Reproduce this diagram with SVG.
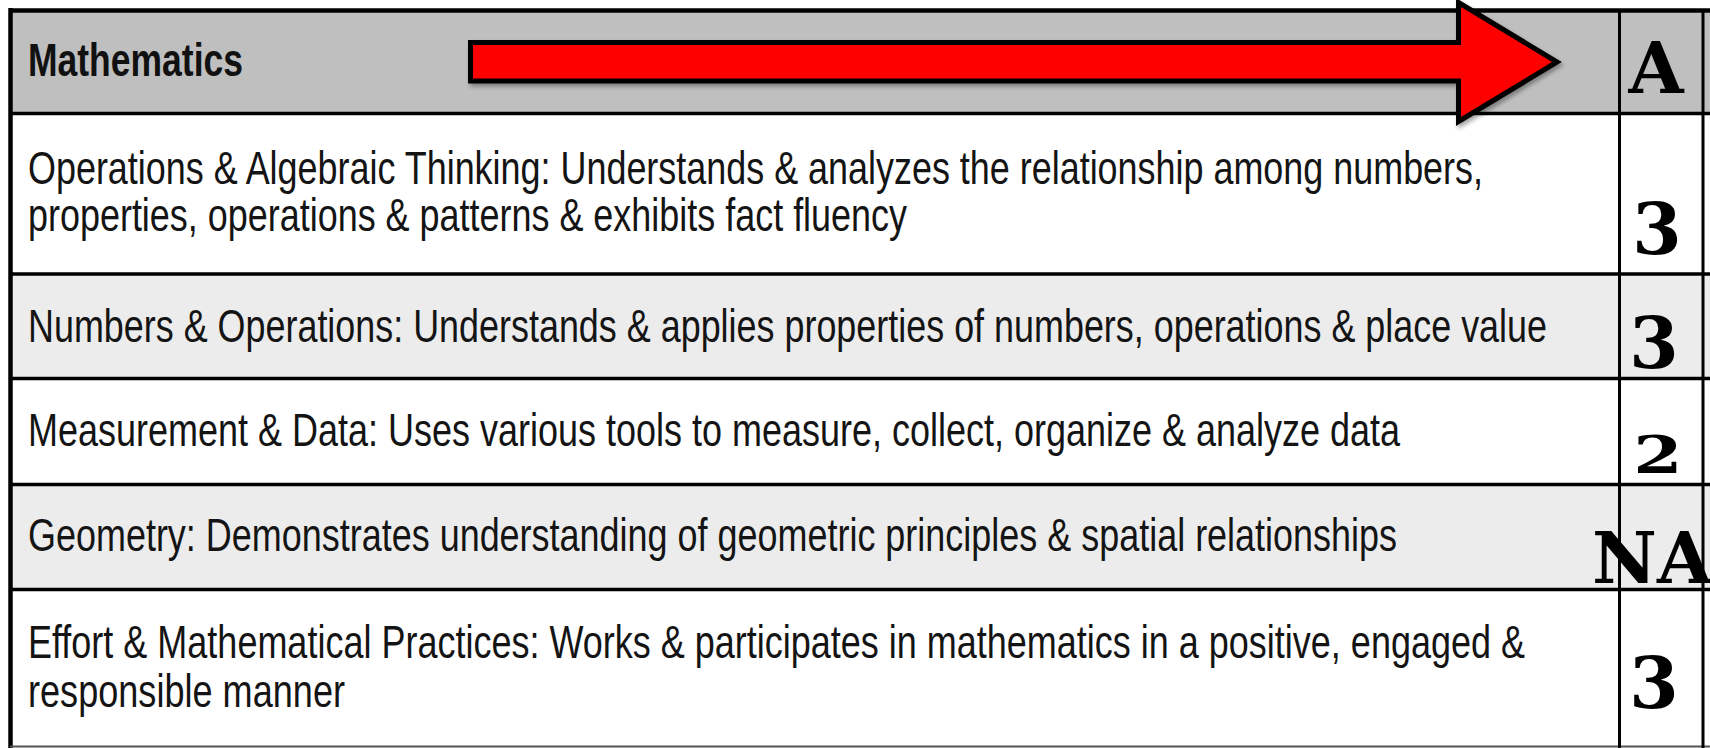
<svg xmlns="http://www.w3.org/2000/svg" width="1710" height="748" viewBox="0 0 1710 748">
<style>
.t{font-family:"Liberation Sans",Arial,sans-serif;font-size:46px;fill:#141414}
.h{font-family:"Liberation Sans",Arial,sans-serif;font-size:47px;font-weight:bold;fill:#111}
.g{font-family:"DejaVu Serif","Liberation Serif",serif;font-size:71px;font-weight:bold;fill:#000}
.ln{stroke:#000;stroke-width:3.5;fill:none}
.vl{stroke:#000;stroke-width:3;fill:none}
</style>
<defs>
<filter id="sh" x="-5%" y="-20%" width="110%" height="140%">
<feDropShadow dx="2" dy="3" stdDeviation="2" flood-color="#000" flood-opacity="0.35"/>
</filter>
</defs>
<rect x="0" y="0" width="1710" height="748" fill="#fff"/>
<g id="header">
<rect x="10" y="10" width="1700" height="104" fill="#bfbfbf"/>
<text class="h" x="28" y="76" textLength="215" lengthAdjust="spacingAndGlyphs">Mathematics</text>
</g>
<g id="row1">
<rect x="10" y="114" width="1700" height="160" fill="#fff"/>
<text class="t" x="28" y="184" textLength="1455" lengthAdjust="spacingAndGlyphs">Operations &amp; Algebraic Thinking: Understands &amp; analyzes the relationship among numbers,</text>
<text class="t" x="28" y="231" textLength="879" lengthAdjust="spacingAndGlyphs">properties, operations &amp; patterns &amp; exhibits fact fluency</text>
</g>
<g id="row2">
<rect x="10" y="274" width="1700" height="104" fill="#ececec"/>
<text class="t" x="28" y="342" textLength="1519" lengthAdjust="spacingAndGlyphs">Numbers &amp; Operations: Understands &amp; applies properties of numbers, operations &amp; place value</text>
</g>
<g id="row3">
<rect x="10" y="378" width="1700" height="106" fill="#fff"/>
<text class="t" x="28" y="446" textLength="1372" lengthAdjust="spacingAndGlyphs">Measurement &amp; Data: Uses various tools to measure, collect, organize &amp; analyze data</text>
</g>
<g id="row4">
<rect x="10" y="484" width="1700" height="106" fill="#ececec"/>
<text class="t" x="28" y="551" textLength="1369" lengthAdjust="spacingAndGlyphs">Geometry: Demonstrates understanding of geometric principles &amp; spatial relationships</text>
</g>
<g id="row5">
<rect x="10" y="590" width="1700" height="158" fill="#fff"/>
<text class="t" x="28" y="658" textLength="1497" lengthAdjust="spacingAndGlyphs">Effort &amp; Mathematical Practices: Works &amp; participates in mathematics in a positive, engaged &amp;</text>
<text class="t" x="28" y="707" textLength="317" lengthAdjust="spacingAndGlyphs">responsible manner</text>
</g>
<g id="grid">
<line class="ln" x1="10" y1="10.5" x2="1710" y2="10.5" style="stroke-width:4.5"/>
<line class="ln" x1="10.5" y1="8" x2="10.5" y2="748" style="stroke-width:4.5"/>
<line class="ln" x1="10" y1="113.5" x2="1710" y2="113.5"/>
<line class="ln" x1="10" y1="274" x2="1710" y2="274"/>
<line class="ln" x1="10" y1="378.5" x2="1710" y2="378.5"/>
<line class="ln" x1="10" y1="484.5" x2="1710" y2="484.5"/>
<line class="ln" x1="10" y1="589.5" x2="1710" y2="589.5"/>
<line x1="10" y1="746.5" x2="1710" y2="746.5" stroke="#555" stroke-width="2"/>
<line class="vl" x1="1619.5" y1="10" x2="1619.5" y2="748"/>
<line class="vl" x1="1703" y1="10" x2="1703" y2="748"/>
</g>
<g id="grades">
<text class="g" x="1656" y="93" text-anchor="middle">A</text>
<text class="g" x="1657" y="254" text-anchor="middle">3</text>
<text class="g" x="1654" y="368" text-anchor="middle">3</text>
<text class="g" transform="translate(1658,473) scale(1,0.74)" x="0" y="0" text-anchor="middle">2</text>
<text class="g" x="1592" y="583">NA</text>
<text class="g" x="1654" y="708" text-anchor="middle">3</text>
</g>
<g id="connectors">
<polygon points="470.5,42.5 1458.5,42.5 1458.5,2.5 1557,62 1458.5,121.5 1458.5,81 470.5,81" fill="#ff0000" stroke="#000" stroke-width="5" stroke-linejoin="miter" filter="url(#sh)"/>
</g>
</svg>
